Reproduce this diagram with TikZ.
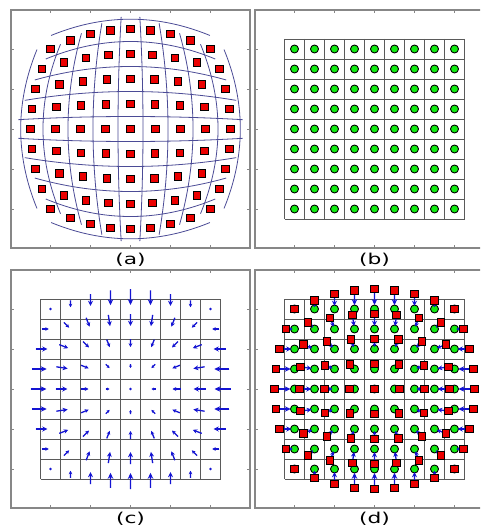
\documentclass[tikz,border=0pt]{standalone}
\usepackage{fontspec}
\setmainfont{DejaVu Sans}
\usetikzlibrary{arrows.meta,calc}
\definecolor{framegray}{RGB}{135,135,135}
\definecolor{gridgray}{RGB}{90,90,90}
\definecolor{distblue}{RGB}{75,75,150}
\definecolor{mred}{RGB}{235,0,0}
\definecolor{mgreen}{RGB}{20,235,20}
\definecolor{qblue}{RGB}{20,20,210}
\begin{document}
\begin{tikzpicture}[x=1pt,y=-1pt,
  frame/.style={draw=framegray,line width=1.3pt},
  tick/.style={draw=framegray,line width=0.8pt},
  gridline/.style={draw=gridgray,line width=0.9pt},
  distline/.style={draw=distblue,line width=0.8pt},
  redsq/.style={rectangle,draw=black,fill=mred,line width=0.9pt,minimum size=7.5pt,inner sep=0pt},
  greenc/.style={circle,draw=black,fill=mgreen,line width=0.9pt,minimum size=8pt,inner sep=0pt},
  qarrow/.style={draw=qblue,fill=qblue,line width=1.3pt},
  lbl/.style={font=\fontsize{15}{15}\selectfont,inner sep=0pt}
]
\fill[white] (0,0) rectangle (480,527);
\clip (0,0) rectangle (480,527);
% frames and ticks
\foreach \cx/\cy in {130.5/129, 374.5/129, 130.5/389, 374.5/389} {
  \draw[frame] (\cx-119.5,\cy-119) rectangle (\cx+119.5,\cy+119);
  \foreach \o in {-80,-40,0,40,80} {
    \draw[tick] (\cx+\o,\cy-119) -- ++(0,3);
    \draw[tick] (\cx+\o,\cy+119) -- ++(0,-3);
    \draw[tick] (\cx-119.5,\cy+\o) -- ++(3,0);
    \draw[tick] (\cx+119.5,\cy+\o) -- ++(-3,0);
  }
}
% ---------- (a) distorted grid ----------
\foreach \v/\t in {-70/80,-50/83,-30/87,-10/90,10/90,30/87,50/83,70/80} {
  \draw[distline] plot[domain=-\t:\t,samples=37,smooth] ({130.5+\x*(1.25-0.25*(\v/80)^2)},{129+\v*(1.25-0.25*(\x/80)^2)});
  \draw[distline] plot[domain=-\t:\t,samples=37,smooth] ({130.5+\v*(1.25-0.25*(\x/80)^2)},{129+\x*(1.25-0.25*(\v/80)^2)});
}
\foreach \v in {-90,90} {
  \draw[distline] plot[domain=-85:85,samples=35,smooth] ({130.5+0.934*\x},{129+\v*(1.22-0.16*(\x/80)^2)});
  \draw[distline] plot[domain=-85:85,samples=35,smooth] ({130.5+\v*(1.22-0.16*(\x/80)^2)},{129+0.934*\x});
}
% ---------- (b), (c), (d) regular grids ----------
\foreach \cx/\cy in {374.5/129, 130.5/389, 374.5/389} {
  \foreach \k in {0,...,9} {
    \draw[gridline] (\cx-90+20*\k,\cy-90) -- (\cx-90+20*\k,\cy+90);
    \draw[gridline] (\cx-90,\cy-90+20*\k) -- (\cx+90,\cy-90+20*\k);
  }
}
% ---------- markers and arrows ----------
\foreach \i in {0,...,8} {
  \foreach \j in {0,...,8} {
    \pgfmathsetmacro\uX{20*(\i-4)}
    \pgfmathsetmacro\uY{20*(\j-4)}
    \pgfmathsetmacro\dX{\uX*(1.25-0.25*(\uY/80)^2)}
    \pgfmathsetmacro\dY{\uY*(1.25-0.25*(\uX/80)^2)}
    \pgfmathsetmacro\qlen{0.8*sqrt((\uX-\dX)^2+(\uY-\dY)^2)}
    \pgfmathsetmacro\hl{min(6,0.35*\qlen+1)}
    \pgfmathsetmacro\hw{0.75*\hl+1}
    % (a) red squares
    \node[redsq] (a\i\j) at (130.5+\dX,129+\dY) {};
    % (b) green circles
    \node[greenc] (b\i\j) at (374.5+\uX,129+\uY) {};
    % (c) quiver
    \coordinate (ct\i\j) at (130.5+\dX,389+\dY);
    \coordinate (ch\i\j) at (130.5+\uX,389+\uY);
    \ifdim\qlen pt<0.6pt
      \fill[qblue] (ct\i\j) circle (1.3);
    \else
      \draw[qarrow,-{Stealth[length=\hl pt,width=\hw pt]}] (ct\i\j) -- ($(ct\i\j)!0.8!(ch\i\j)$);
    \fi
    % (d)
    \coordinate (dt\i\j) at (374.5+\dX,389+\dY);
    \node[greenc] (dg\i\j) at (374.5+\uX,389+\uY) {};
    \ifdim\qlen pt<0.6pt\else
      \draw[qarrow,-{Stealth[length=\hl pt,width=\hw pt]}] (dt\i\j) -- ($(dt\i\j)!0.8!(dg\i\j.center)$);
    \fi
  }
}
\foreach \i in {0,...,8} {
  \foreach \j in {0,...,8} {
    \node[redsq] (dr\i\j) at (dt\i\j) {};
  }
}
% labels
\node[lbl] (la) at (130.5,260) {\scalebox{1.45}[1]{(a)}};
\node[lbl] (lb) at (374.5,260) {\scalebox{1.45}[1]{(b)}};
\node[lbl] (lc) at (130.5,519) {\scalebox{1.45}[1]{(c)}};
\node[lbl] (ld) at (374.5,519) {\scalebox{1.45}[1]{(d)}};
\end{tikzpicture}
\end{document}
